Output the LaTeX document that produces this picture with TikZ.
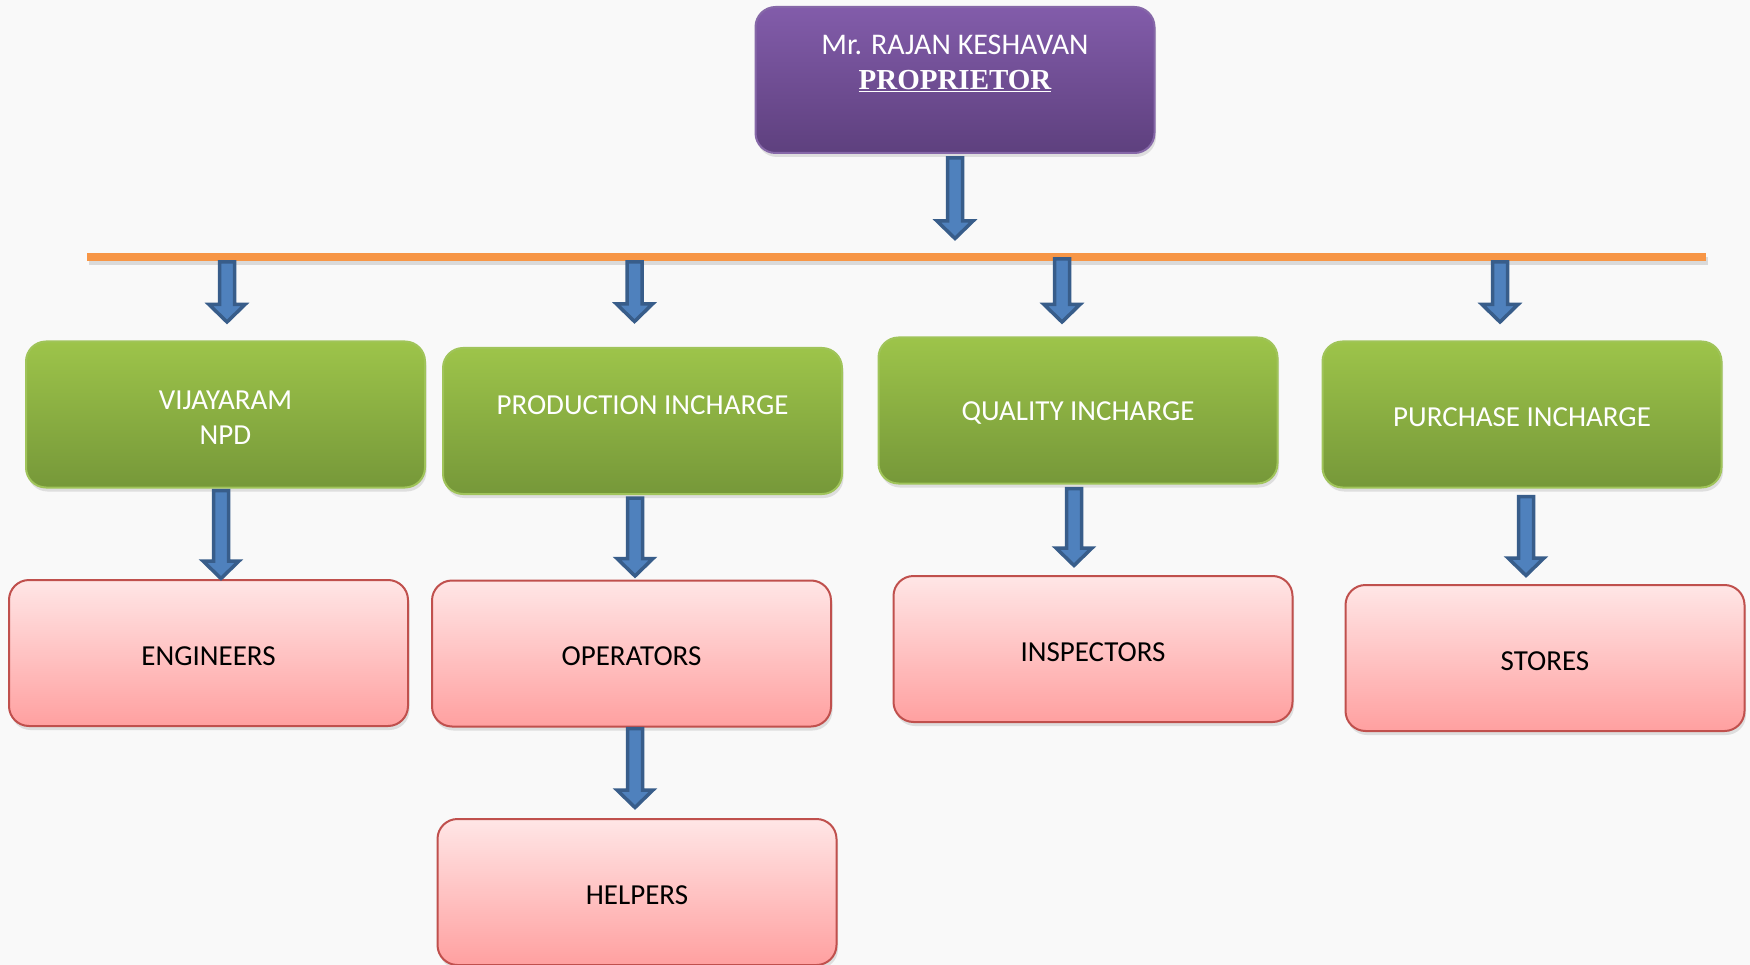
\documentclass[tikz,border=0pt]{standalone}
\usepackage{fontspec}
\setmainfont{Carlito}
\newfontfamily\propserif{Liberation Serif}
\usetikzlibrary{calc,shadows}

\definecolor{bgc}{RGB}{249,249,249}
\definecolor{ptop}{RGB}{130,92,170}
\definecolor{pbot}{RGB}{94,64,126}
\definecolor{pborder}{RGB}{134,104,168}
\definecolor{gtop}{RGB}{157,196,74}
\definecolor{gbot}{RGB}{118,152,57}
\definecolor{gborder}{RGB}{160,196,90}
\definecolor{rtop}{RGB}{255,230,230}
\definecolor{rbot}{RGB}{255,160,160}
\definecolor{rborder}{RGB}{192,80,77}
\definecolor{arrowfill}{RGB}{79,129,189}
\definecolor{arrowline}{RGB}{56,93,138}
\definecolor{busc}{RGB}{247,150,70}

\newcommand\tstrut{\rule{0pt}{24.5pt}}
\newcommand\blockarrow[2]{%
  \path[barrow] let \p1=(#1), \p2=(#2) in
    (\x1-7.5pt,\y1) -- (\x1+7.5pt,\y1) -- (\x1+7.5pt,\y2+19pt) --
    (\x1+18pt,\y2+19pt) -- (\x1,\y2+1.5pt) -- (\x1-18pt,\y2+19pt) --
    (\x1-7.5pt,\y2+19pt) -- cycle;}

\begin{document}
\begin{tikzpicture}[x=1pt,y=-1pt,
  box/.style={rounded corners=20pt, inner sep=0pt, align=center,
    line width=2pt, minimum width=399pt, minimum height=146pt,
    drop shadow={opacity=0.22, shadow xshift=1.5pt, shadow yshift=-4pt}},
  purplebox/.style={box, top color=ptop, bottom color=pbot, draw=pborder,
    text=white, font=\fontsize{30}{35}\selectfont},
  greenbox/.style={box, top color=gtop, bottom color=gbot, draw=gborder,
    text=white, font=\fontsize{29}{34.5}\selectfont},
  pinkbox/.style={box, top color=rtop, bottom color=rbot, draw=rborder,
    text=black, font=\fontsize{29}{34.5}\selectfont},
  barrow/.style={fill=arrowfill, draw=arrowline, line width=3.5pt, line join=miter},
  busline/.style={draw=busc, line width=8pt},
]
\useasboundingbox (0,0) rectangle (1750,965);
\fill[bgc] (0,0) rectangle (1750,965);

% top box
\node[purplebox] (prop) at (955,80)
  {Mr. RAJAN KESHAVAN\\{\fontsize{29}{35}\propserif\bfseries\underline{PROPRIETOR}}\\\mbox{}};

% bus line
\coordinate (busL) at (87,257);
\coordinate (busR) at (1706,257);
\draw[line width=8pt, black, opacity=0.12] ($(busL)+(2,4)$) -- ($(busR)+(2,4)$);
\draw[busline] (busL) -- (busR);

% second level
\node[greenbox] (npd) at (225.5,414.5) {\tstrut VIJAYARAM\\NPD};
\node[greenbox] (prod) at (642.5,421) {\rule{0pt}{21pt}PRODUCTION INCHARGE\\\mbox{}};
\node[greenbox] (qual) at (1078,410.5) {\tstrut QUALITY INCHARGE};
\node[greenbox] (purch) at (1522,414.5) {\tstrut PURCHASE INCHARGE};

% third level
\node[pinkbox] (eng) at (208.5,653) {\tstrut ENGINEERS};
\node[pinkbox] (oper) at (631.5,653.5) {\tstrut OPERATORS};
\node[pinkbox] (insp) at (1093,649) {\tstrut INSPECTORS};
\node[pinkbox] (stor) at (1545,658) {\tstrut STORES};
\node[pinkbox] (help) at (637,892) {\tstrut HELPERS};

% arrows
\blockarrow{$(prop.south)+(0,4)$}{$(prop.south |- busL)+(0,-17)$}
\blockarrow{$(busL -| npd.north)+(1.5,5)$}{$(npd.north)+(0,-17)$}
\blockarrow{$(busL -| prod.north)+(-8,5)$}{$(prod.north)+(0,-24)$}
\blockarrow{$(busL -| qual.north)+(-16,2)$}{$(qual.north)+(0,-13)$}
\blockarrow{$(busL -| purch.north)+(-22,5)$}{$(purch.north)+(0,-17)$}

\blockarrow{$(npd.south)+(-4.5,2)$}{$(eng.north)+(0,1)$}
\blockarrow{$(prod.south)+(-7.5,3)$}{$(oper.north)+(0,-2)$}
\blockarrow{$(qual.south)+(-4,4)$}{$(insp.north)+(0,-8)$}
\blockarrow{$(purch.south)+(4,8)$}{$(stor.north)+(0,-7)$}
\blockarrow{$(oper.south)+(3.5,1)$}{$(help.north)+(0,-9)$}
\end{tikzpicture}
\end{document}
